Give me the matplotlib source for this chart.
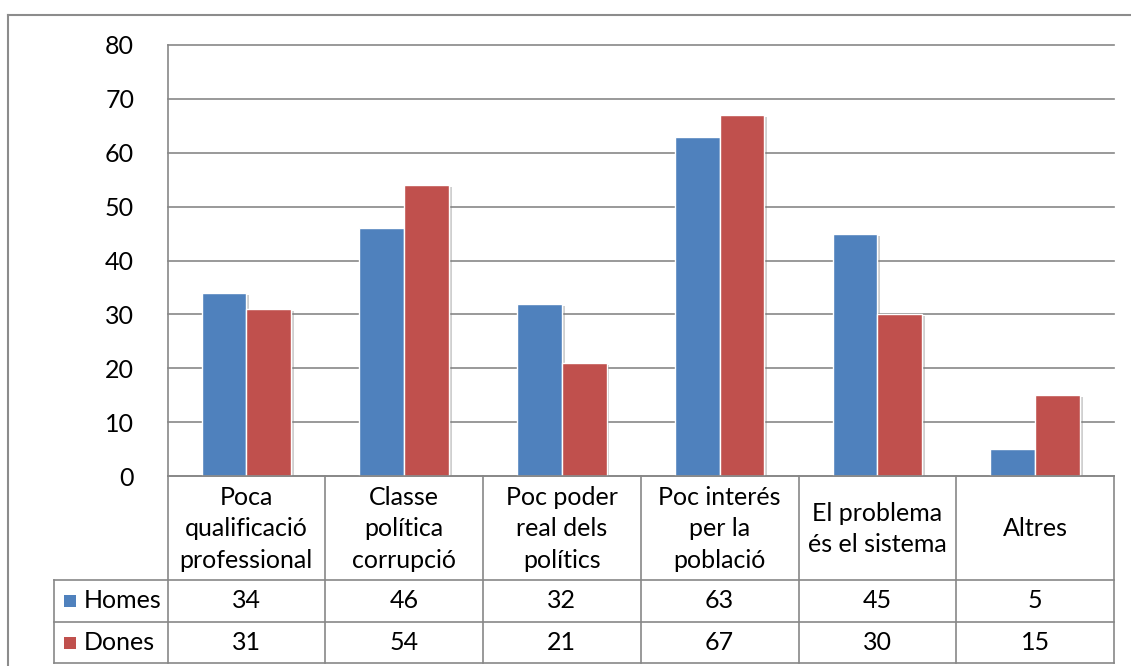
import matplotlib
matplotlib.use('Agg')
import matplotlib.pyplot as plt
from matplotlib.lines import Line2D
from matplotlib.patches import Rectangle
import matplotlib.patheffects as pe
import numpy as np

categories = ["Poca\nqualificació\nprofessional", "Classe\npolítica\ncorrupció",
              "Poc poder\nreal dels\npolítics", "Poc interés\nper la\npoblació",
              "El problema\nés el sistema", "Altres"]
homes = [34, 46, 32, 63, 45, 5]
dones = [31, 54, 21, 67, 30, 15]
series_names = ["Homes", "Dones"]
series_colors = ["#4F81BD", "#C0504D"]
yticks = [0, 10, 20, 30, 40, 50, 60, 70, 80]

plt.rcParams['font.family'] = ['Lato', 'DejaVu Sans']
FS = 18
GRID = '#878787'

W, H = 1131, 666
fig = plt.figure(figsize=(W / 100, H / 100), dpi=100)

def fx(px):
    return px / W

def fy(py):
    return 1 - py / H

L, R, T, B = 167.5, 1114, 45, 476
ax = fig.add_axes([fx(L), fy(B), fx(R) - fx(L), fy(T) - fy(B)])

x = np.arange(len(categories))
w = 0.284
shadow = [pe.SimplePatchShadow(offset=(2, -1.5), shadow_rgbFace='#777777', alpha=0.35), pe.Normal()]
for vals, off, col in [(homes, -w / 2, series_colors[0]), (dones, w / 2, series_colors[1])]:
    bars = ax.bar(x + off, vals, width=w, color=col, edgecolor='white', linewidth=1.0, zorder=3)
    for b in bars:
        b.set_path_effects(shadow)

ax.set_xlim(-0.5, len(categories) - 0.5)
ax.set_ylim(0, 80)
ax.set_yticks(yticks)
ax.set_yticklabels([str(v) for v in yticks], fontsize=FS)
ax.tick_params(axis='y', length=0, pad=24)
ax.set_xticks([])
ax.yaxis.grid(True, color=GRID, linewidth=1.2, zorder=0)
for gl in ax.get_ygridlines():
    gl.set_clip_on(False)
for s in ['top', 'right', 'bottom']:
    ax.spines[s].set_visible(False)
ax.spines['left'].set_color(GRID)
ax.spines['left'].set_linewidth(1.2)
ax.set_axisbelow(True)

def hline(x0, x1, y):
    fig.add_artist(Line2D([fx(x0), fx(x1)], [fy(y), fy(y)], color=GRID, lw=1.2))

def vline(xx, y0, y1):
    fig.add_artist(Line2D([fx(xx), fx(xx)], [fy(y0), fy(y1)], color=GRID, lw=1.2))

# data table geometry
row_cat_bot = 580
row_h_bot = 622
row_d_bot = 663
leg_left = 54
cw = (R - L) / len(categories)

hline(L, R, B)
hline(leg_left, R, row_cat_bot)
hline(leg_left, R, row_h_bot)
hline(leg_left, R, row_d_bot)
for i in range(len(categories) + 1):
    vline(L + i * cw, B, row_d_bot)
vline(leg_left, row_cat_bot, row_d_bot)

for i, cat in enumerate(categories):
    cx = L + (i + 0.5) * cw
    fig.text(fx(cx), fy((B + row_cat_bot) / 2 + 1), cat, ha='center', va='center',
             fontsize=FS, linespacing=1.45, color='black')
    fig.text(fx(cx), fy((row_cat_bot + row_h_bot) / 2), str(homes[i]), ha='center', va='center',
             fontsize=FS)
    fig.text(fx(cx), fy((row_h_bot + row_d_bot) / 2), str(dones[i]), ha='center', va='center',
             fontsize=FS)

for j, (name, col, (y0, y1)) in enumerate(zip(series_names, series_colors,
                                             [(row_cat_bot, row_h_bot), (row_h_bot, row_d_bot)])):
    yc = (y0 + y1) / 2
    sq = 12
    fig.add_artist(Rectangle((fx(64), fy(yc + sq / 2)), sq / W, sq / H, transform=fig.transFigure,
                             facecolor=col, edgecolor='none'))
    fig.text(fx(84), fy(yc), name, ha='left', va='center', fontsize=FS)

# outer chart border (cropped at right and bottom)
fig.add_artist(Line2D([fx(8), fx(W + 5)], [fy(15), fy(15)], color='#8c8c8c', lw=1.5))
fig.add_artist(Line2D([fx(8), fx(8)], [fy(15), fy(H + 5)], color='#8c8c8c', lw=1.5))

fig.savefig('out.png', dpi=100)
